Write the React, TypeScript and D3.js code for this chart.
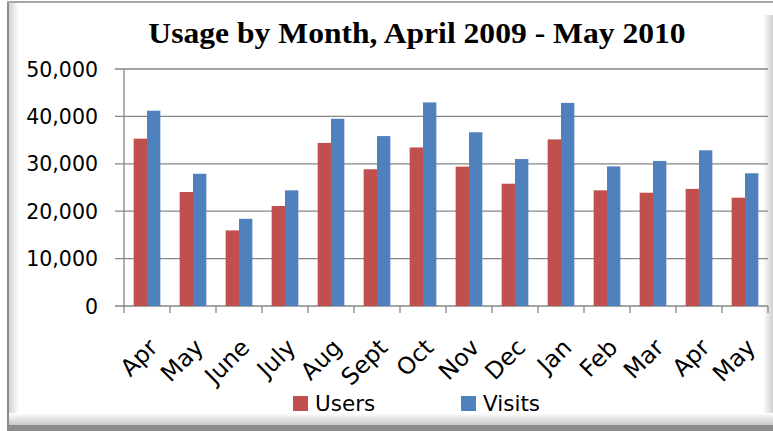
import React from 'react';
import * as d3 from 'd3';

const months = ['Apr', 'May', 'June', 'July', 'Aug', 'Sept', 'Oct', 'Nov', 'Dec', 'Jan', 'Feb', 'Mar', 'Apr', 'May'];
const users = [35300, 24050, 15950, 21100, 34400, 28850, 33450, 29400, 25800, 35150, 24400, 23900, 24700, 22850];
const visits = [41200, 27900, 18400, 24400, 39500, 35850, 42950, 36650, 31000, 42850, 29450, 30600, 32850, 28000];
const seriesNames = ['Users', 'Visits'];
const yTicks = [0, 10000, 20000, 30000, 40000, 50000];
const title = 'Usage by Month, April 2009 - May 2010';

const W = 773;
const H = 431;
const colors = ['#C0504D', '#4F81BD'];
const sans = '"DejaVu Sans", sans-serif';

export default function App() {
  const left = 124, right = 768, top = 69, bottom = 306;
  const idx = months.map((_, i) => String(i));
  const x0 = d3.scaleBand().domain(idx).range([left, right]).paddingInner(0.42).paddingOuter(0.21);
  const x1 = d3.scaleBand().domain(seriesNames).range([0, x0.bandwidth()]);
  const y = d3.scaleLinear().domain([0, 50000]).range([bottom, top]);
  const fmt = d3.format(',');
  const step = x0.step();
  const data = [users, visits];
  const boundaries = d3.range(months.length + 1).map(i => left + i * step);

  return (
    <svg width={W} height={H} style={{ position: 'absolute', left: 0, top: 0, display: 'block', background: '#fff' }}>
      <defs>
        <linearGradient id="gl" x1="0" x2="1" y1="0" y2="0">
          <stop offset="0" stopColor="#d4d4d4" />
          <stop offset="1" stopColor="#ffffff" />
        </linearGradient>
        <linearGradient id="gr" x1="0" x2="1" y1="0" y2="0">
          <stop offset="0" stopColor="#ffffff" />
          <stop offset="1" stopColor="#d0d0d0" />
        </linearGradient>
        <linearGradient id="gb" x1="0" x2="0" y1="0" y2="1">
          <stop offset="0" stopColor="#ffffff" />
          <stop offset="1" stopColor="#c8c8c8" />
        </linearGradient>
      </defs>
      <rect x={0} y={0} width={W} height={H} fill="#fff" />
      {/* frame */}
      <rect x={9} y={3} width={10} height={422} fill="url(#gl)" />
      <rect x={763} y={15} width={10} height={410} fill="url(#gr)" />
      <rect x={9} y={413} width={764} height={12} fill="url(#gb)" />
      <rect x={7} y={425} width={766} height={6} fill="#8c8c8c" />
      <rect x={7} y={1} width={2} height={430} fill="#8c8c8c" />
      <rect x={7} y={1} width={766} height={2} fill="#a6a6a6" />

      {/* title */}
      <text transform={`translate(417,43) scale(1.09,1)`} textAnchor="middle"
        fontFamily='"Liberation Serif", serif' fontWeight="bold" fontSize={29} fill="#000">{title}</text>

      {/* gridlines and y axis */}
      {yTicks.map(t => (
        <g key={t}>
          <line x1={115} x2={right} y1={y(t)} y2={y(t)} stroke="#868686" strokeWidth={1.3} />
          <text x={98} y={y(t) + 7.5} textAnchor="end" fontFamily={sans} fontSize={20.5} fill="#000">{fmt(t)}</text>
        </g>
      ))}
      <line x1={left} x2={left} y1={top} y2={bottom} stroke="#868686" strokeWidth={1.3} />

      {/* bars */}
      {months.map((m, i) => (
        <g key={i} transform={`translate(${x0(String(i))},0)`}>
          {seriesNames.map((s, k) => (
            <rect key={s} x={x1(s)} width={x1.bandwidth()} y={y(data[k][i])} height={bottom - y(data[k][i])} fill={colors[k]} />
          ))}
        </g>
      ))}

      {/* x axis ticks */}
      {boundaries.map((b, i) => (
        <line key={i} x1={b} x2={b} y1={bottom} y2={bottom + 7} stroke="#868686" strokeWidth={1.3} />
      ))}

      {/* x labels */}
      {months.map((m, i) => {
        const cx = (x0(String(i)) as number) + x0.bandwidth() / 2;
        return (
          <text key={i} transform={`translate(${cx},${337}) rotate(-45)`} textAnchor="end" dy="0.72em"
            fontFamily={sans} fontSize={23.5} fill="#000">{m}</text>
        );
      })}

      {/* legend */}
      {seriesNames.map((s, k) => {
        const lx = k === 0 ? 293 : 461;
        return (
          <g key={s}>
            <rect x={lx} y={396} width={15} height={15} fill={colors[k]} />
            <text x={lx + 22} y={411} fontFamily={sans} fontSize={21.5} fill="#000">{s}</text>
          </g>
        );
      })}
    </svg>
  );
}
